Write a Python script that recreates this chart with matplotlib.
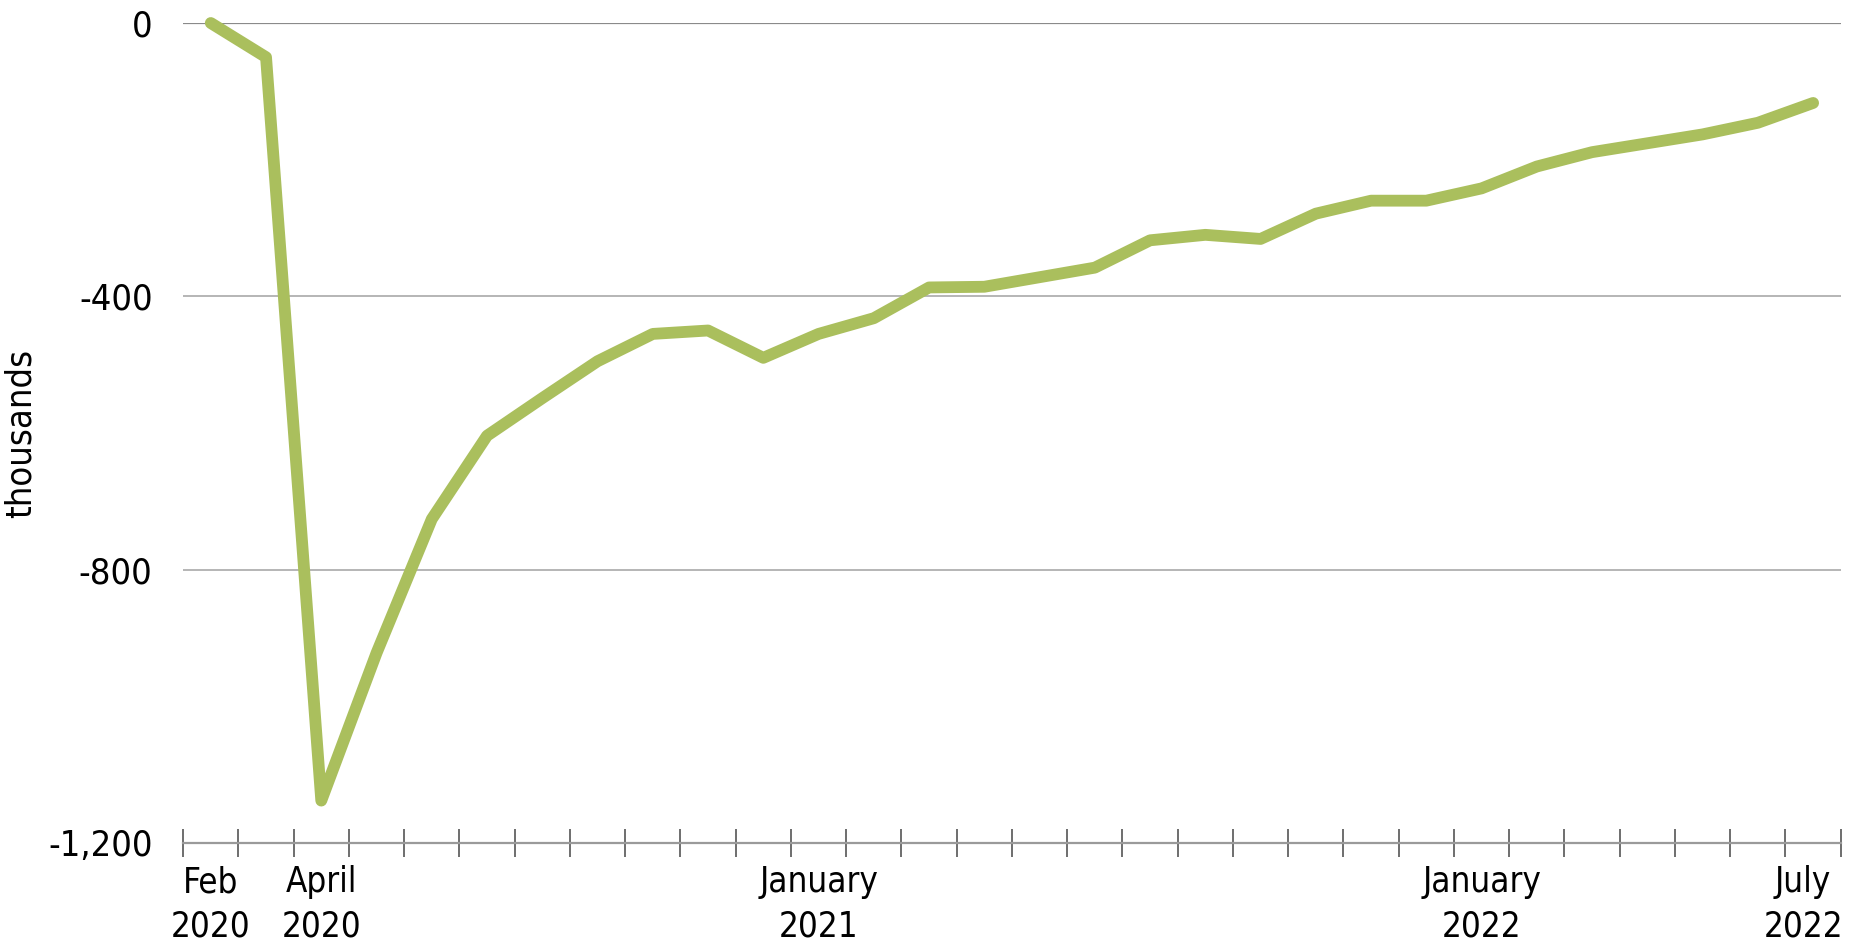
import matplotlib.pyplot as plt
import matplotlib.transforms as mtransforms
import numpy as np

# Change in employment since Feb 2020, thousands (monthly, Feb 2020 - Jul 2022)
months = [
    "2020-02", "2020-03", "2020-04", "2020-05", "2020-06", "2020-07",
    "2020-08", "2020-09", "2020-10", "2020-11", "2020-12",
    "2021-01", "2021-02", "2021-03", "2021-04", "2021-05", "2021-06",
    "2021-07", "2021-08", "2021-09", "2021-10", "2021-11", "2021-12",
    "2022-01", "2022-02", "2022-03", "2022-04", "2022-05", "2022-06",
    "2022-07",
]
values = [
    0, -50, -1138, -922, -726, -604,
    -549, -495, -455, -450, -490,
    -455, -432, -387, -386, -372, -358,
    -318, -310, -316, -279, -260, -260,
    -242, -210, -189, -176, -163, -146,
    -117,
]
label_pos = [0, 2, 11, 23, 29]
label_text = ["Feb\n2020", "April\n2020", "January\n2021", "January\n2022", "July\n2022"]
y_ticks = [0, -400, -800, -1200]
y_labels = ["0", "-400", "-800", "-1,200"]

plt.rcParams["font.family"] = ["DejaVu Sans"]
plt.rcParams["font.stretch"] = "condensed"

fig = plt.figure(figsize=(18.5, 9.51), dpi=100)
ax = fig.add_axes([0.099, 0.1136, 0.896, 0.8622])

x = np.arange(len(values))
ax.plot(x, values, color="#aabf5d", lw=8.5, solid_joinstyle="round",
        solid_capstyle="round", clip_on=False, zorder=3)

ax.set_xlim(-0.5, len(values) - 0.5)
ax.set_ylim(-1200, 0)

# grid lines
for yv in y_ticks[1:-1]:
    ax.axhline(yv, color="#b0b0b0", lw=1.3, zorder=1)
ax.axhline(0, color="#8a8a8a", lw=1.6, zorder=1)

for side in ["top", "right", "left"]:
    ax.spines[side].set_visible(False)
ax.spines["bottom"].set_color("#9a9a9a")
ax.spines["bottom"].set_linewidth(1.6)

ax.set_yticks(y_ticks)
ax.set_yticklabels(y_labels, fontsize=26)
ax.tick_params(axis="y", length=0, pad=22)

# tick marks at month boundaries, labels at month centres
ax.set_xticks(np.arange(-0.5, len(values), 1.0), minor=True)
ax.tick_params(axis="x", which="minor", length=20, direction="inout",
               color="#555555", width=1.2)
ax.set_xticks(label_pos)
ax.set_xticklabels(label_text, fontsize=25, linespacing=1.4)
ax.tick_params(axis="x", which="major", length=0, pad=16)

# last label sits right against the figure edge: nudge it left a bit
last = ax.get_xticklabels()[-1]
last.set_transform(last.get_transform()
                   + mtransforms.ScaledTranslation(-0.1, 0, fig.dpi_scale_trans))

ax.set_ylabel("thousands", fontsize=26)
ax.yaxis.set_label_coords(-0.088, 0.5)

fig.savefig("out.png", dpi=100)
